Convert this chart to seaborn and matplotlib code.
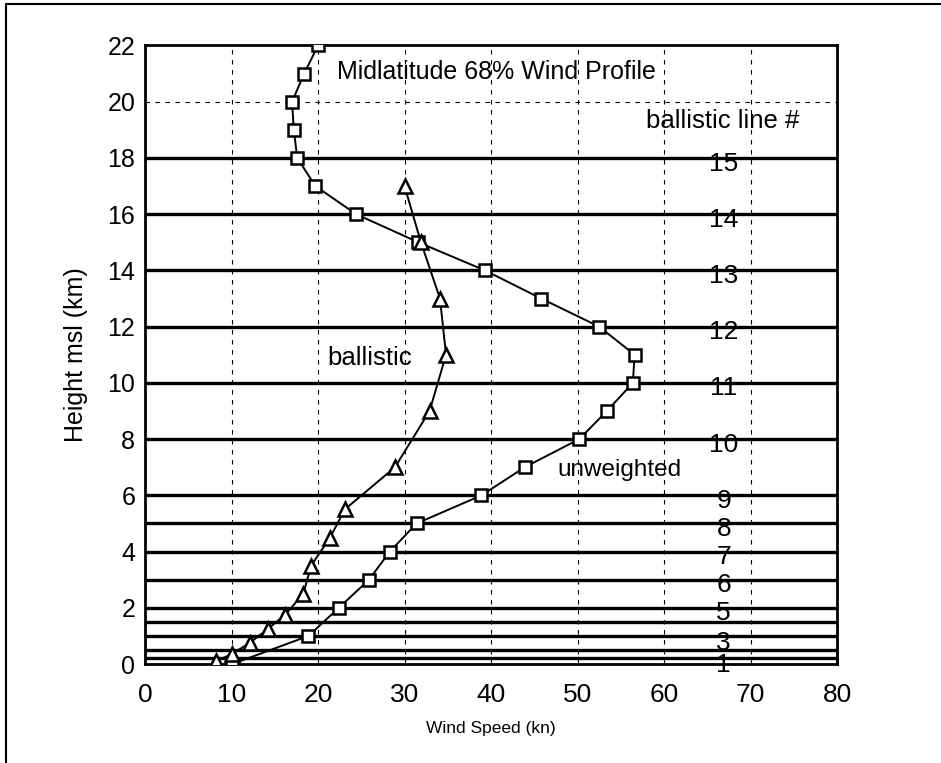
import matplotlib
matplotlib.use("Agg")
import matplotlib.pyplot as plt
import seaborn as sns
import pandas as pd
from matplotlib.lines import Line2D

# ---- data ----
unweighted_height = [0, 1, 2, 3, 4, 5, 6, 7, 8, 9, 10, 11, 12, 13, 14, 15, 16, 17, 18, 19, 20, 21, 22]
unweighted_speed = [10.1, 18.9, 22.4, 25.9, 28.3, 31.4, 38.9, 43.9, 50.2, 53.4, 56.4, 56.6, 52.5, 45.8,
                    39.3, 31.6, 24.4, 19.7, 17.6, 17.2, 17.0, 18.4, 20.0]
ballistic_height = [0.1, 0.35, 0.75, 1.25, 1.75, 2.5, 3.5, 4.5, 5.5, 7, 9, 11, 13, 15, 17]
ballistic_speed = [8.2, 10.0, 12.1, 14.2, 16.2, 18.3, 19.2, 21.4, 23.1, 28.9, 32.9, 34.8, 34.1, 31.9, 30.0]
ballistic_line_tops = [0.2, 0.5, 1.0, 1.5, 2, 3, 4, 5, 6, 8, 10, 12, 14, 16, 18]
line_labels = ["1", "3", "5", "6", "7", "8", "9", "10", "11", "12", "13", "14", "15"]
line_label_tops = [0.2, 1.0, 2, 3, 4, 5, 6, 8, 10, 12, 14, 16, 18]
x_ticks = [0, 10, 20, 30, 40, 50, 60, 70, 80]
y_ticks = [0, 2, 4, 6, 8, 10, 12, 14, 16, 18, 20, 22]

sns.set_theme(style="white")
plt.rcParams['font.family'] = ['Liberation Sans Narrow', 'Liberation Sans', 'DejaVu Sans']
plt.rcParams['text.color'] = 'black'
plt.rcParams['axes.labelcolor'] = 'black'
plt.rcParams['xtick.color'] = 'black'
plt.rcParams['ytick.color'] = 'black'

fig = plt.figure(figsize=(9.41, 7.63), dpi=100)
ax = fig.add_axes([0.1541, 0.1297, 0.7354, 0.8107])

# grid lines
for xv in x_ticks[1:-1]:
    ax.axvline(xv, color="black", lw=0.8, ls=(0, (4, 5)), zorder=1)
for yv in y_ticks[1:-1]:
    ax.axhline(yv, color="black", lw=0.8, ls=(0, (4, 5)), zorder=1)
# ballistic lines
for yv in ballistic_line_tops:
    ax.axhline(yv, color="black", lw=2.4, zorder=2)

df_u = pd.DataFrame({"speed": unweighted_speed, "height": unweighted_height})
df_b = pd.DataFrame({"speed": ballistic_speed, "height": ballistic_height})

sns.lineplot(data=df_u, x="speed", y="height", sort=False, estimator=None, ax=ax,
             color="black", lw=1.4, marker="s", markersize=9, markerfacecolor="white",
             markeredgecolor="black", markeredgewidth=1.8, zorder=4)
sns.lineplot(data=df_b, x="speed", y="height", sort=False, estimator=None, ax=ax,
             color="black", lw=1.4, marker="^", markersize=9.5, markerfacecolor="white",
             markeredgecolor="black", markeredgewidth=1.8, zorder=4)

ax.set_xlim(0, 80)
ax.set_ylim(0, 22)
ax.set_xticks(x_ticks)
ax.set_yticks(y_ticks)
ax.tick_params(axis="both", length=0, colors="black")
ax.tick_params(axis="x", pad=14, labelsize=19)
ax.tick_params(axis="y", pad=7, labelsize=18)
ax.set_xlabel("Wind Speed (kn)", fontsize=12.5, family=["Liberation Sans"], labelpad=10)
ax.set_ylabel("Height msl (km)", fontsize=18, family=["Liberation Sans"], labelpad=14)
for s in ax.spines.values():
    s.set_color("black")
    s.set_linewidth(2)
ax.grid(False)

ax.text(22.2, 21.07, "Midlatitude 68% Wind Profile", fontsize=18, va="center", ha="left",
        family=["Liberation Sans"], zorder=5)
ax.text(57.9, 19.3, "ballistic line #", fontsize=18.5, va="center", ha="left",
        family=["Liberation Sans"], zorder=5)
ax.text(21.1, 10.9, "ballistic", fontsize=18.5, va="center", ha="left",
        family=["Liberation Sans"], zorder=5)
ax.text(47.7, 6.9, "unweighted", fontsize=17.5, va="center", ha="left",
        family=["Liberation Sans"], zorder=5)

for lab, top in zip(line_labels, line_label_tops):
    yy = top - 0.2 if top > 1.5 else top - 0.25
    ax.text(66.9, yy, lab, fontsize=19, va="center", ha="center", zorder=5, clip_on=False)

# outer frame (top and left edges visible in the reference)
fig.add_artist(Line2D([0.0065, 1.0], [0.995, 0.995], transform=fig.transFigure, color="black", lw=1.5))
fig.add_artist(Line2D([0.0065, 0.0065], [0.0, 0.995], transform=fig.transFigure, color="black", lw=1.5))

fig.savefig("out.png", dpi=100, facecolor="white")
